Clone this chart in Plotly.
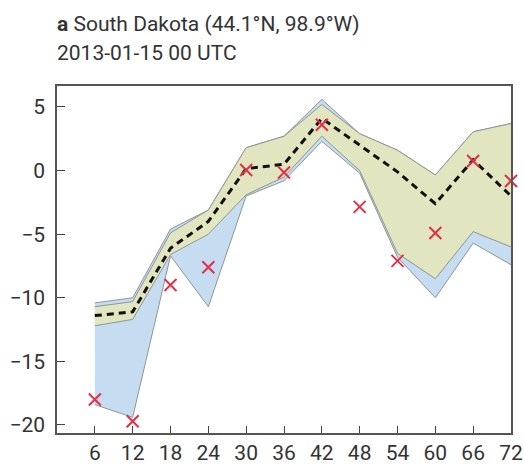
import plotly.graph_objects as go

# Forecast lead time (hours)
lead_hours = [6, 12, 18, 24, 30, 36, 42, 48, 54, 60, 66, 72]

# Observed 2 m temperature (°C)
observed = [-18.0, -19.7, -9.0, -7.6, 0.05, -0.15, 3.6, -2.85, -7.1, -4.9, 0.76, -0.82]

# Ensemble mean (°C)
ens_mean = [-11.4, -11.1, -6.1, -4.0, 0.15, 0.5, 4.1, 2.0, -0.1, -2.6, 0.85, -2.0]

# Narrow ensemble spread (green)
green_hi = [-10.7, -10.3, -4.9, -3.1, 1.8, 2.7, 5.2, 2.9, 1.6, -0.35, 3.05, 3.7]
green_lo = [-12.2, -11.7, -6.6, -5.0, -1.9, -0.5, 2.7, 0.0, -6.5, -8.5, -4.8, -6.0]

# Wide ensemble spread (blue)
blue_hi = [-10.4, -10.0, -4.6, -3.1, 1.8, 2.7, 5.6, 2.9, 1.6, -0.35, 3.05, 3.7]
blue_lo = [-18.4, -19.4, -6.7, -10.7, -2.0, -0.8, 2.3, -0.2, -6.8, -10.0, -5.7, -7.4]

x_ticks = [6, 12, 18, 24, 30, 36, 42, 48, 54, 60, 66, 72]
y_ticks = [-20, -15, -10, -5, 0, 5]

EDGE = "#8f9696"
BLUE = "#c6dcf1"
GREEN = "#e2e6c0"
FONT = "Roboto"
TEXT = "#333333"

fig = go.Figure()

fig.add_trace(go.Scatter(x=lead_hours, y=blue_lo, mode="lines",
                         line=dict(color=EDGE, width=1), showlegend=False))
fig.add_trace(go.Scatter(x=lead_hours, y=blue_hi, mode="lines", fill="tonexty",
                         fillcolor=BLUE, line=dict(color=EDGE, width=1), showlegend=False))
fig.add_trace(go.Scatter(x=lead_hours, y=green_lo, mode="lines",
                         line=dict(color=EDGE, width=1), showlegend=False))
fig.add_trace(go.Scatter(x=lead_hours, y=green_hi, mode="lines", fill="tonexty",
                         fillcolor=GREEN, line=dict(color=EDGE, width=1), showlegend=False))
fig.add_trace(go.Scatter(x=lead_hours, y=ens_mean, mode="lines",
                         line=dict(color="#111111", width=3, dash="7px,5px"),
                         showlegend=False))
fig.add_trace(go.Scatter(x=lead_hours, y=observed, mode="markers",
                         marker=dict(symbol="x-thin", size=12, color="#e0304a",
                                     line=dict(color="#e0304a", width=2)),
                         cliponaxis=False, showlegend=False))

fig.update_layout(
    width=524, height=466,
    margin=dict(l=57, r=13, t=86, b=33),
    paper_bgcolor="white", plot_bgcolor="white",
    font=dict(family=FONT, size=21, color=TEXT),
    annotations=[
        dict(text="<b>a</b> South Dakota (44.1°N, 98.9°W)", xref="paper", yref="paper",
             x=0, y=1, xanchor="left", yanchor="bottom", yshift=48, xshift=-2,
             showarrow=False, font=dict(family=FONT, size=21, color=TEXT)),
        dict(text="2013-01-15 00 UTC", xref="paper", yref="paper",
             x=0, y=1, xanchor="left", yanchor="bottom", yshift=19, xshift=-2,
             showarrow=False, font=dict(family=FONT, size=21, color=TEXT)),
    ],
)

fig.update_xaxes(range=[0, 72], tickvals=x_ticks, ticks="inside", ticklen=7,
                 tickcolor="#444444", showline=True, linecolor="#555555", linewidth=1.5,
                 mirror=True, showgrid=False, zeroline=False, ticklabelstandoff=0,
                 automargin=False,
                 tickfont=dict(family=FONT, size=21, color=TEXT))
fig.update_yaxes(range=[-20.63, 6.65], tickvals=y_ticks, ticks="inside", ticklen=8,
                 tickcolor="#444444", showline=True, linecolor="#555555", linewidth=1.5,
                 mirror=True, showgrid=False, zeroline=False, ticklabelstandoff=6,
                 automargin=False,
                 tickfont=dict(family=FONT, size=21, color=TEXT))

fig.write_html("out.html")
